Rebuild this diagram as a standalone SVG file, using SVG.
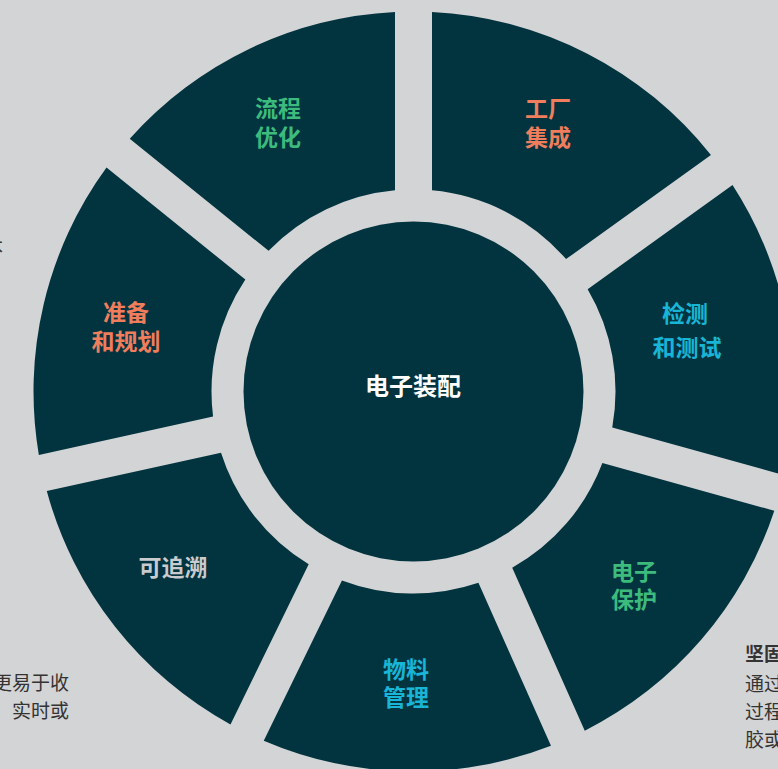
<svg xmlns="http://www.w3.org/2000/svg" width="778" height="769" viewBox="0 0 778 769">
<style>
.seg{fill:#023440}
.lbl{font-family:"Noto Sans CJK SC","Noto Sans",sans-serif;font-weight:700;font-size:23px;text-anchor:middle}
.g{fill:#3dbb7c}.o{fill:#f07e5c}.c{fill:#19b5d6}.s{fill:#c9cbcd}.w{fill:#ffffff}
.side{font-family:"Noto Sans CJK SC","Noto Sans",sans-serif;font-size:19px;fill:#333333}
</style>
<rect width="778" height="769" fill="#d3d4d5"/>
<g id="connectors"/>
<g id="seg-liucheng">
<path class="seg" d="M129.74,138.76 A380,380 0 0 1 395,11.95 L395,190.35 A202,202 0 0 0 268.58,250.79 Z"/>
<text class="lbl g" x="278" y="117">流程</text>
<text class="lbl g" x="278" y="146">优化</text>
</g>
<g id="seg-gongchang">
<path class="seg" d="M432,11.95 A380,380 0 0 1 710.94,155.01 L566.07,259.11 A202,202 0 0 0 432,190.35 Z"/>
<text class="lbl o" x="548" y="117">工厂</text>
<text class="lbl o" x="548" y="146">集成</text>
</g>
<g id="seg-jiance">
<path class="seg" d="M732.52,185.05 A380,380 0 0 1 784.19,475.1 L612.27,427.42 A202,202 0 0 0 587.65,289.15 Z"/>
<text class="lbl c" x="685" y="322">检测</text>
<text class="lbl c" x="687" y="356">和测试</text>
</g>
<g id="seg-dianzibaohu">
<path class="seg" d="M774.31,510.76 A380,380 0 0 1 584.78,730.72 L512.22,567.74 A202,202 0 0 0 602.39,463.08 Z"/>
<text class="lbl g" x="634" y="580">电子</text>
<text class="lbl g" x="634" y="608">保护</text>
</g>
<g id="seg-wuliao">
<path class="seg" d="M550.98,745.76 A380,380 0 0 1 263.75,740.74 L341.95,580.4 A202,202 0 0 0 478.42,582.78 Z"/>
<text class="lbl c" x="406" y="678">物料</text>
<text class="lbl c" x="406" y="706">管理</text>
</g>
<g id="seg-zhuisu">
<path class="seg" d="M230.49,724.52 A380,380 0 0 1 46.78,491.07 L221.01,452.76 A202,202 0 0 0 308.69,564.18 Z"/>
<text class="lbl s" x="173" y="576">可追溯</text>
</g>
<g id="seg-zhunbei">
<path class="seg" d="M38.84,454.93 A380,380 0 0 1 106.5,167.56 L245.34,279.59 A202,202 0 0 0 213.07,416.62 Z"/>
<text class="lbl o" x="126" y="321">准备</text>
<text class="lbl o" x="126" y="350">和规划</text>
</g>
<g id="center">
<circle class="seg" cx="413.5" cy="391.5" r="170"/>
<text class="lbl w" x="413" y="395" style="font-size:24px">电子装配</text>
</g>
<g id="side-text">
<text class="side" x="3" y="254" text-anchor="end">本</text>
<text class="side" x="69" y="690" text-anchor="end">更易于收</text>
<text class="side" x="69" y="718" text-anchor="end">实时或</text>
<text class="side" x="745" y="661" style="font-weight:700">坚固</text>
<text class="side" x="745" y="691">通过</text>
<text class="side" x="745" y="719">过程</text>
<text class="side" x="745" y="747">胶或</text>
</g>
</svg>
